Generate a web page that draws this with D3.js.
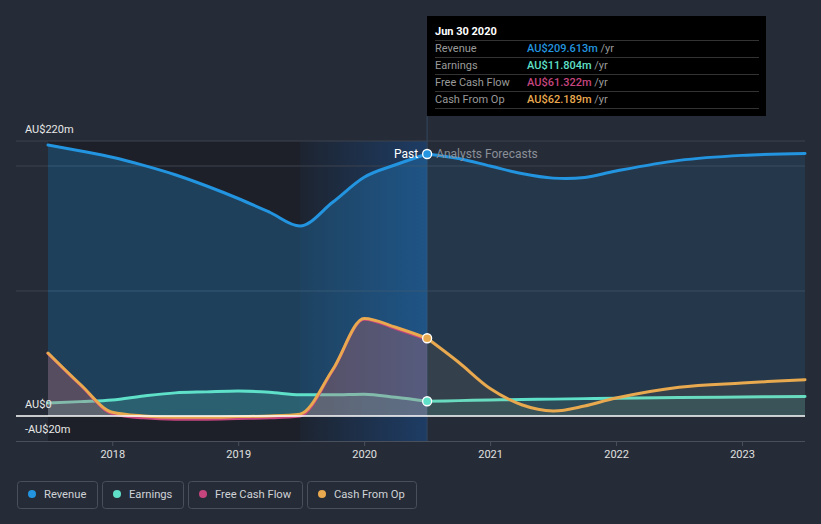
<!DOCTYPE html>
<html><head><meta charset="utf-8">
<script src="https://cdn.jsdelivr.net/npm/d3@7"></script>
<style>
html,body{margin:0;padding:0;background:#262c37;}
svg{display:block;font-family:Roboto, "Noto Sans", sans-serif;}
</style></head>
<body><svg id="c" width="821" height="524"></svg>
<script>
// ---- data ----
const pastYears = [2017.49,2017.75,2018.0,2018.25,2018.5,2018.75,2019.0,2019.25,2019.49,2019.75,2020.0,2020.25,2020.5];
const revenuePast = [216.8,212,207,200.5,193,184,174,163,152,171,191,201,209.613];
const earningsPast = [10.4,11.5,12.8,16,18.5,19.3,20,19,17,17,17.5,15,11.804];
const fcfPast = [50,24.5,2,-1.5,-2.5,-2.5,-2,-1.5,0,36.5,77.5,70,61.322];
const cfoPast = [50.4,25,3,0,-1,-1,-0.5,0,1.5,37,78,71,62.189];

const foreYears = [2020.5,2020.75,2021.0,2021.25,2021.5,2021.75,2022.0,2022.5,2023.0,2023.5];
const revenueFore = [209.613,206,200,194,190.3,190.8,196,204.5,208.5,210];
const earningsFore = [11.804,12.3,12.8,13.2,13.5,13.9,14.2,14.8,15.2,15.6];
const cfoFore = [62.189,43,22,9,4,8,14.4,23,26.4,29];

const yTicks = [220,0,-20];
const yTickLabels = ["AU$220m","AU$0","-AU$20m"];
const gridVals = [220,200,100];
const xTickYears = [2018,2019,2020,2021,2022,2023];

const seriesNames = ["Revenue","Earnings","Free Cash Flow","Cash From Op"];
const seriesColors = ["#2394df","#5fe0c9","#c6457f","#e9a94f"];
const tooltipTitle = "Jun 30 2020";
const tooltipValues = ["AU$209.613m","AU$11.804m","AU$61.322m","AU$62.189m"];

// ---- chart ----
const svg = d3.select("#c");
const plotL=16, plotR=805;
const x = d3.scaleLinear().domain([2017.49,2023.5]).range([48,805]);
const y = d3.scaleLinear().domain([-20,220]).range([441,141]);
const highlightStart = 2019.49, nowYear = 2020.5;

const defs = svg.append("defs");
const hg = defs.append("linearGradient").attr("id","hl").attr("x1","0").attr("x2","1").attr("y1","0").attr("y2","0");
hg.append("stop").attr("offset","0").attr("stop-color","#1f6fd0").attr("stop-opacity",0.05);
hg.append("stop").attr("offset","1").attr("stop-color","#1f6fd0").attr("stop-opacity",0.36);

// past dark region
svg.append("rect").attr("x",x(2017.49)).attr("y",y(220)).attr("width",x(nowYear)-x(2017.49)).attr("height",y(-20)-y(220)).attr("fill","#1d2028");
svg.append("rect").attr("x",x(highlightStart)).attr("y",y(220)).attr("width",x(nowYear)-x(highlightStart)).attr("height",y(-20)-y(220)).attr("fill","url(#hl)");

// gridlines
svg.selectAll(".grid").data(gridVals).enter().append("line")
  .attr("x1",plotL).attr("x2",plotR).attr("y1",d=>y(d)).attr("y2",d=>y(d))
  .attr("stroke","#3c424e").attr("stroke-width",1);

// x axis
const xAxis = d3.axisBottom(x).tickValues(xTickYears).tickFormat(d=>String(d)).tickSize(5).tickPadding(4);
const gx = svg.append("g").attr("transform",`translate(0,${y(-20)})`).call(xAxis);
gx.select(".domain").remove();
gx.append("line").attr("x1",plotL).attr("x2",plotR).attr("y1",0.5).attr("y2",0.5).attr("stroke","#4a505b");
gx.selectAll(".tick line").attr("stroke","#4a505b");
gx.selectAll(".tick text").attr("fill","#e0e0e0").attr("font-size",11).attr("font-family","Roboto");

// vertical now line
svg.append("line").attr("x1",x(nowYear)).attr("x2",x(nowYear)).attr("y1",116).attr("y2",y(-20))
  .attr("stroke","#34465e").attr("stroke-width",1);

const pastPts = (vals)=>pastYears.map((t,i)=>[t,vals[i]]);
const forePts = (vals)=>foreYears.map((t,i)=>[t,vals[i]]);
const curve = d3.curveMonotoneX;
const curveF = d3.curveCatmullRom.alpha(0.5);
const line = d3.line().x(d=>x(d[0])).y(d=>y(d[1])).curve(curve);
const area = d3.area().x(d=>x(d[0])).y0(y(0)).y1(d=>y(d[1])).curve(curve);
const lineF = d3.line().x(d=>x(d[0])).y(d=>y(d[1])).curve(curveF);
const areaF = d3.area().x(d=>x(d[0])).y0(y(0)).y1(d=>y(d[1])).curve(curveF);

function drawArea(pts,color,op,f){ svg.append("path").attr("d",(f?areaF:area)(pts)).attr("fill",color).attr("fill-opacity",op); }
function drawLine(pts,color,w,f){ svg.append("path").attr("d",(f?lineF:line)(pts)).attr("fill","none").attr("stroke",color).attr("stroke-width",w).attr("stroke-linejoin","round").attr("stroke-linecap","round"); }

// revenue
drawArea(pastPts(revenuePast),seriesColors[0],0.28);
drawArea(forePts(revenueFore),seriesColors[0],0.12,true);
drawLine(pastPts(revenuePast),seriesColors[0],3);
drawLine(forePts(revenueFore),seriesColors[0],3,true);
// earnings
drawArea(pastPts(earningsPast),seriesColors[1],0.2);
drawArea(forePts(earningsFore),seriesColors[1],0.12,true);
drawLine(pastPts(earningsPast),seriesColors[1],3);
drawLine(forePts(earningsFore),seriesColors[1],3,true);
// fcf + cfo
drawArea(pastPts(fcfPast),seriesColors[2],0.22);
drawArea(pastPts(cfoPast),seriesColors[3],0.12);
drawArea(forePts(cfoFore),seriesColors[3],0.08,true);
drawLine(pastPts(fcfPast),seriesColors[2],3);
drawLine(pastPts(cfoPast),seriesColors[3],3);
drawLine(forePts(cfoFore),seriesColors[3],3,true);

// zero line
svg.append("line").attr("x1",plotL).attr("x2",plotR).attr("y1",y(0)).attr("y2",y(0)).attr("stroke","#ffffff").attr("stroke-width",1.3);

// dots at now
[[revenuePast,0],[earningsPast,1],[cfoPast,3]].forEach(([vals,i])=>{
  svg.append("circle").attr("cx",x(nowYear)).attr("cy",y(vals[vals.length-1])).attr("r",4.5)
    .attr("fill",seriesColors[i]).attr("stroke","#ffffff").attr("stroke-width",1.3);
});

// past / forecast labels
svg.append("text").attr("x",x(nowYear)-9).attr("y",y(revenuePast[revenuePast.length-1])+4).attr("text-anchor","end")
  .attr("fill","#ffffff").attr("font-size",12).text("Past");
svg.append("text").attr("x",x(nowYear)+9).attr("y",y(revenuePast[revenuePast.length-1])+4)
  .attr("fill","#8a8f98").attr("font-size",12).text("Analysts Forecasts");

// y labels
svg.selectAll(".ylab").data(yTicks).enter().append("text")
  .attr("x",25).attr("y",d=>y(d)-8).attr("fill","#e8e8e8").attr("font-size",11)
  .text((d,i)=>yTickLabels[i]);

// tooltip
const tt = svg.append("g");
tt.append("rect").attr("x",427).attr("y",16).attr("width",339).attr("height",100).attr("fill","#000000");
tt.append("text").attr("x",435).attr("y",35).attr("fill","#ffffff").attr("font-size",11).attr("font-weight","bold").text(tooltipTitle);
[40,57,74,91,108].forEach(yy=>tt.append("line").attr("x1",435).attr("x2",759).attr("y1",yy+0.5).attr("y2",yy+0.5).attr("stroke","#333333"));
seriesNames.forEach((n,i)=>{
  const yy = 52+i*17;
  tt.append("text").attr("x",435).attr("y",yy).attr("fill","#9a9a9a").attr("font-size",11).text(n);
  const v = tt.append("text").attr("x",527).attr("y",yy).attr("font-size",11);
  v.append("tspan").attr("fill",seriesColors[i]).attr("font-weight","500").text(tooltipValues[i]);
  v.append("tspan").attr("fill","#9a9a9a").text(" /yr");
});

// legend
let lx = 17;
seriesNames.forEach((n,i)=>{
  const g = svg.append("g");
  const t = g.append("text").attr("x",lx+27).attr("y",498).attr("fill","#cfd2d6").attr("font-size",11.2).text(n);
  const tw = t.node().getComputedTextLength();
  const w = Math.round(tw+27+11);
  g.insert("rect","text").attr("x",lx+0.5).attr("y",481.5).attr("width",w).attr("height",27).attr("rx",3)
    .attr("fill","none").attr("stroke","#4a505b");
  g.append("circle").attr("cx",lx+15).attr("cy",494).attr("r",4).attr("fill",seriesColors[i]);
  lx += w+5;
});
</script></body></html>
